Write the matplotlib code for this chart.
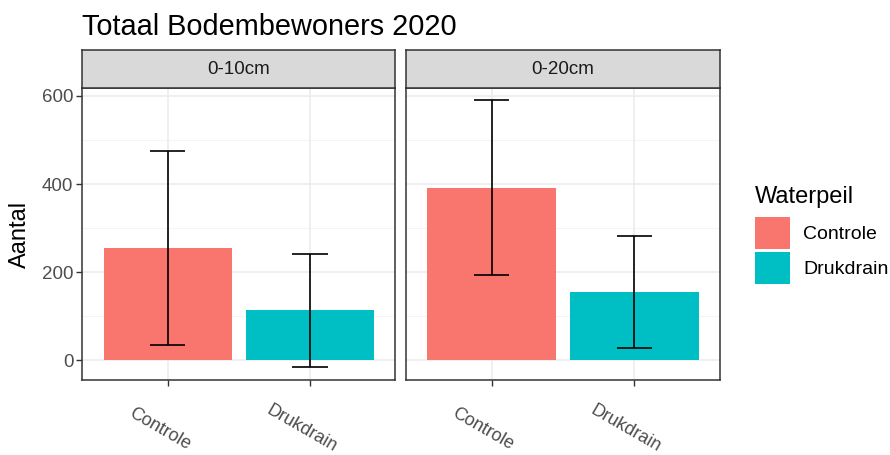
import matplotlib
matplotlib.use("Agg")
import matplotlib.pyplot as plt
from matplotlib.patches import Patch

# Data: mean counts and error bar half-widths per depth layer and treatment
depths = ["0-10cm", "0-20cm"]
treatments = ["Controle", "Drukdrain"]
mean_0_10 = [254, 113]
err_0_10 = [220, 129]
mean_0_20 = [392, 155]
err_0_20 = [198, 127]
yticks = [0, 200, 400, 600]
yminor = [100, 300, 500]

means = [mean_0_10, mean_0_20]
errs = [err_0_10, err_0_20]
colors = ["#F8766D", "#00BFC4"]

plt.rcParams["font.family"] = ["Liberation Sans", "DejaVu Sans"]

W, H = 890, 455
fig = plt.figure(figsize=(W / 100, H / 100), dpi=100)

def fx(px):
    return px / W

def fy(py):
    return 1 - py / H

panel_x = [(82.3, 395.3), (406.0, 720.0)]
panel_top, panel_bot, strip_top = 88.0, 380.0, 50.0

for i, (x0, x1) in enumerate(panel_x):
    ax = fig.add_axes([fx(x0), fy(panel_bot), fx(x1 - x0), fy(panel_top) - fy(panel_bot)])
    xpos = [1, 2]
    for y in yticks:
        ax.axhline(y, color="#EBEBEB", lw=1.1, zorder=0)
    for y in yminor:
        ax.axhline(y, color="#F2F2F2", lw=0.6, zorder=0)
    for x in xpos:
        ax.axvline(x, color="#EBEBEB", lw=1.1, zorder=0)
    ax.bar(xpos, means[i], width=0.9, color=colors, zorder=2)
    for x, m, e in zip(xpos, means[i], errs[i]):
        ax.vlines(x, m - e, m + e, color="black", lw=1.2, zorder=3)
        ax.hlines([m - e, m + e], x - 0.125, x + 0.125, color="black", lw=1.2, zorder=3)
    ax.set_xlim(0.4, 2.6)
    ax.set_ylim(-45, 618)
    ax.set_xticks(xpos)
    ax.set_xticklabels([])
    ax.set_yticks(yticks)
    for s in ax.spines.values():
        s.set_color("#333333")
        s.set_linewidth(1.1)
    ax.tick_params(axis="both", color="#333333", length=4.5, width=1.0,
                   labelsize=13.5, labelcolor="#4D4D4D", pad=2)
    if i == 0:
        ax.set_yticklabels([str(v) for v in yticks])
    else:
        ax.set_yticklabels([])
        ax.tick_params(axis="y", length=0)
    # rotated category labels below the axis
    for x, lab in zip(xpos, treatments):
        ax.annotate(lab, xy=(x, 0), xycoords=("data", "axes fraction"),
                    xytext=(-6, -35), textcoords="offset points",
                    rotation=-30, rotation_mode="anchor", ha="center", va="center",
                    fontsize=13, color="#4D4D4D")
    # facet strip
    sax = fig.add_axes([fx(x0), fy(panel_top), fx(x1 - x0), fy(strip_top) - fy(panel_top)])
    sax.set_facecolor("#D9D9D9")
    sax.set_xticks([])
    sax.set_yticks([])
    for s in sax.spines.values():
        s.set_color("#333333")
        s.set_linewidth(1.1)
    sax.text(0.5, 0.5, depths[i], ha="center", va="center", fontsize=13.5,
             color="#1A1A1A", transform=sax.transAxes)

fig.text(fx(82), fy(35), "Totaal Bodembewoners 2020", fontsize=20.8, color="black",
         ha="left", va="baseline")
fig.text(fx(20), fy(234), "Aantal", fontsize=17, rotation=90, ha="center", va="center")

# legend
fig.text(fx(755), fy(203), "Waterpeil", fontsize=17, ha="left", va="baseline")
handles = [Patch(facecolor=c, edgecolor="none") for c in colors]
fig.legend(handles, treatments, loc="upper left",
           bbox_to_anchor=(fx(755), fy(217)), frameon=False, fontsize=14,
           handlelength=1.8, handleheight=2.16, borderpad=0,
           labelspacing=0.15, handletextpad=0.67, borderaxespad=0)

fig.savefig("out.png", dpi=100)
